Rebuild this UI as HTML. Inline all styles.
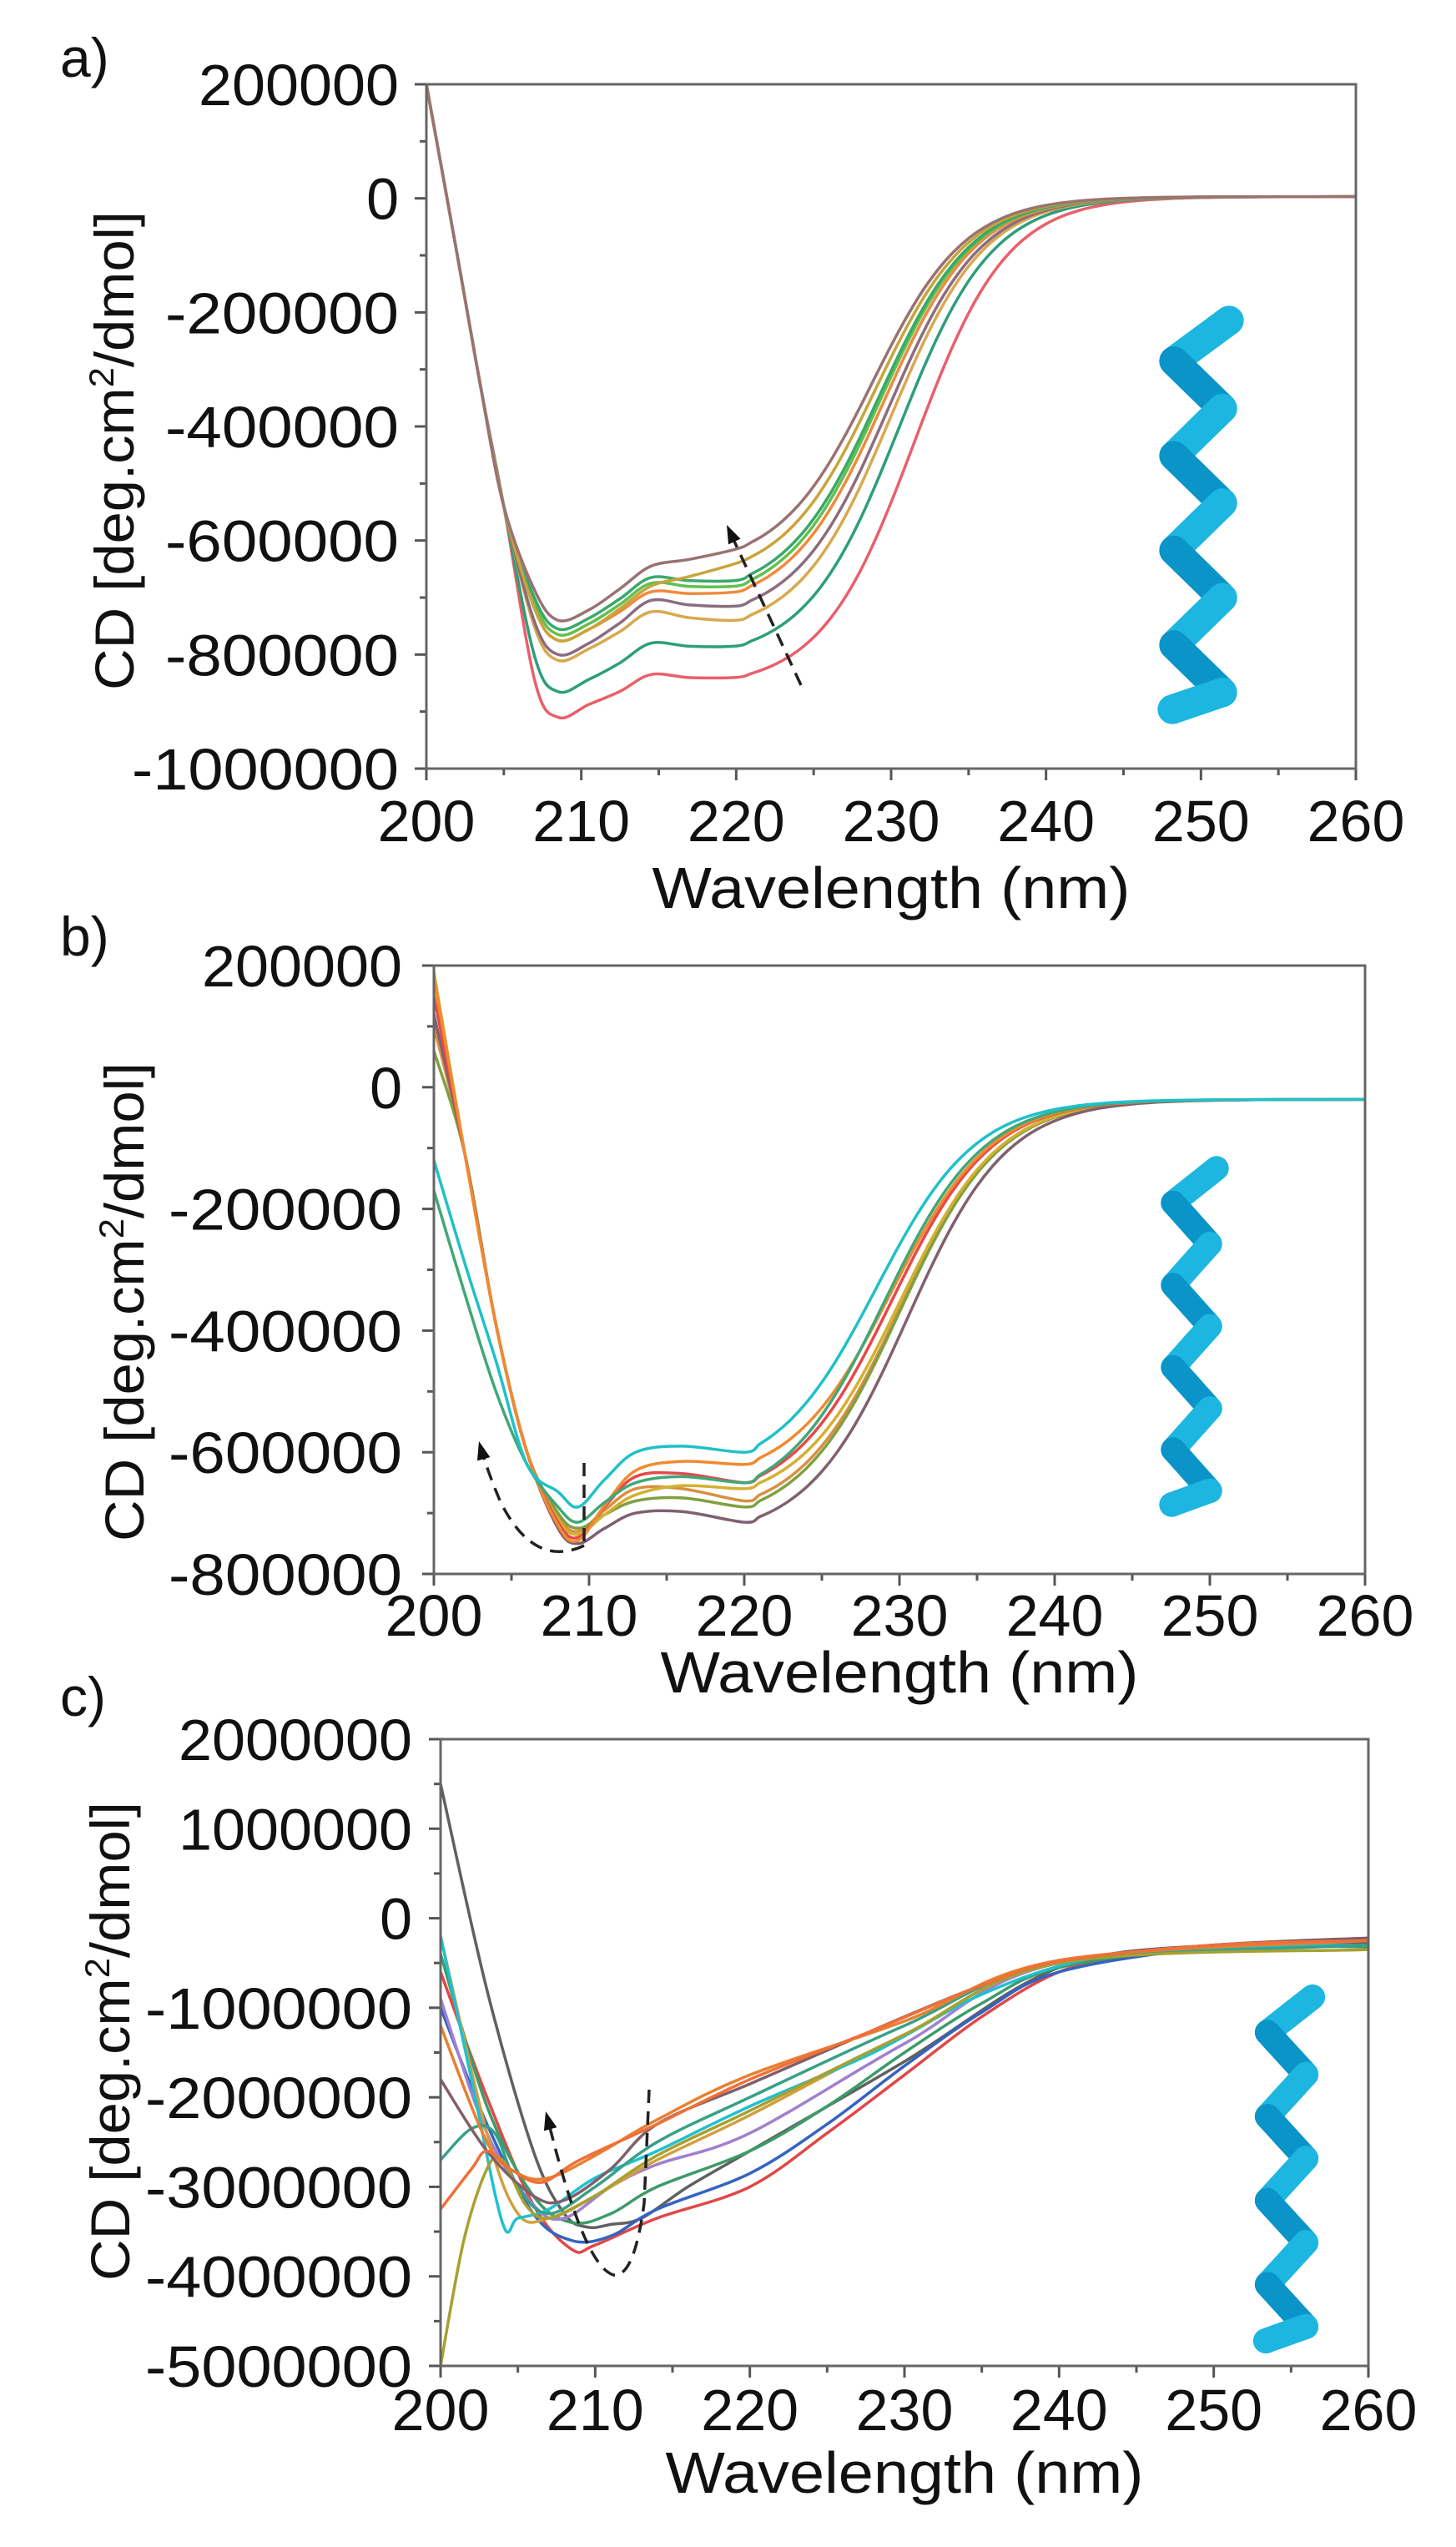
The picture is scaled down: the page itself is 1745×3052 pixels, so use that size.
<!DOCTYPE html>
<html><head><meta charset="utf-8"><style>
html,body{margin:0;padding:0;background:#fff;}
svg{display:block;}
text{font-family:"Liberation Sans",Arial,sans-serif;fill:#111;}
</style></head><body>
<svg id="s" width="1745" height="3052" viewBox="0 0 1745 3052" xmlns="http://www.w3.org/2000/svg">
<rect width="1745" height="3052" fill="#fff"/>
<text x="72" y="92" font-size="66">a)</text>
<text x="72" y="1145" font-size="66">b)</text>
<text x="72" y="2056" font-size="66">c)</text>
<g id="g"></g>
</svg>
<script>
var NS="http://www.w3.org/2000/svg",G=document.getElementById('g');
function el(t,a,txt){var e=document.createElementNS(NS,t);for(var k in a)e.setAttribute(k,a[k]);if(txt!==undefined)e.textContent=txt;G.appendChild(e);return e;}
function panel(P){
  var X=function(x){return P.l+(x-200)/60*(P.r-P.l);};
  var Y=function(v){return P.t+(P.ymax-v)/(P.ymax-P.ymin)*(P.b-P.t);};
  var cid='c'+P.id;
  var d=document.createElementNS(NS,'clipPath');d.setAttribute('id',cid);
  var r=document.createElementNS(NS,'rect');r.setAttribute('x',P.l);r.setAttribute('y',P.t);r.setAttribute('width',P.r-P.l);r.setAttribute('height',P.b-P.t);
  d.appendChild(r);G.appendChild(d);
  var n=Math.round((P.ymax-P.ymin)/P.step);
  for(var i=0;i<=n;i++){var v=P.ymax-i*P.step,y=Y(v);
    el('line',{x1:P.l-14,y1:y,x2:P.l,y2:y,stroke:'#555','stroke-width':3});
    var s=String(v===0?0:v);
    var a={x:P.lx,y:y+25,'font-size':70,'text-anchor':'end'};
    if(s.length>1){a.textLength=s.length*40;a.lengthAdjust='spacingAndGlyphs';}
    el('text',a,s);
    if(i<n){var ym=Y(v-P.step/2);el('line',{x1:P.l-8,y1:ym,x2:P.l,y2:ym,stroke:'#555','stroke-width':3});}
  }
  for(var x=200;x<=260;x+=5){var xx=X(x),maj=(x%10==0);
    el('line',{x1:xx,y1:P.b,x2:xx,y2:P.b+(maj?14:8),stroke:'#555','stroke-width':3});
    if(maj)el('text',{x:xx,y:P.tb,'font-size':70,'text-anchor':'middle'},String(x));
  }
  el('text',{x:(P.l+P.r)/2,y:P.ttb,'font-size':70,'text-anchor':'middle',textLength:573,lengthAdjust:'spacingAndGlyphs'},'Wavelength (nm)');
  var t=el('text',{x:0,y:0,'font-size':66,'text-anchor':'middle',transform:'translate('+P.yl+','+P.yc+') rotate(-90)',textLength:574,lengthAdjust:'spacingAndGlyphs'});
  t.innerHTML='CD [deg.cm<tspan dy="-24" font-size="42">2</tspan><tspan dy="24">/dmol]</tspan>';
  var gg=el('g',{'clip-path':'url(#'+cid+')'});
  P.curves.forEach(function(c){
    var p=c.pts.map(function(q){return [X(q[0]),Y(q[1])];});
    var s='M'+p[0][0].toFixed(1)+','+p[0][1].toFixed(1);
    for(var i=0;i<p.length-1;i++){
      var p0=p[Math.max(0,i-1)],p1=p[i],p2=p[i+1],p3=p[Math.min(p.length-1,i+2)];
      var c1=[p1[0]+(p2[0]-p0[0])/6,p1[1]+(p2[1]-p0[1])/6],c2=[p2[0]-(p3[0]-p1[0])/6,p2[1]-(p3[1]-p1[1])/6];
      s+='C'+c1[0].toFixed(1)+','+c1[1].toFixed(1)+' '+c2[0].toFixed(1)+','+c2[1].toFixed(1)+' '+p2[0].toFixed(1)+','+p2[1].toFixed(1);
    }
    var e=document.createElementNS(NS,'path');e.setAttribute('d',s);e.setAttribute('fill','none');e.setAttribute('stroke',c.col);e.setAttribute('stroke-width',3.5);e.setAttribute('stroke-linejoin','round');gg.appendChild(e);
  });
  el('rect',{x:P.l,y:P.t,width:P.r-P.l,height:P.b-P.t,fill:'none',stroke:'#666','stroke-width':3});
  var h=P.hx,x0=h[0],x1=h[1],y0=h[2],y1=h[3],dy=(y1-y0)/8.5;
  var pts=[[x1-4,y0+8]];
  for(var k=1;k<=8;k++){pts.push([k%2?x0+14:x1-12,y0+k*dy]);}
  pts.push([x0+12,y1-8]);
  for(var k=0;k<pts.length-1;k++){
    el('line',{x1:pts[k][0],y1:pts[k][1],x2:pts[k+1][0],y2:pts[k+1][1],stroke:k%2?'#0a94c8':'#1cb6e0','stroke-width':(x1-x0)*0.42,'stroke-linecap':'round'});
  }
}
function sig(pts,plat,xc,w,base,xs){
  var f0=1+Math.exp((xs-xc)/w);
  for(var x=xs+1;x<=260;x+=1){pts.push([x,base+(plat-base)*f0/(1+Math.exp((x-xc)/w))]);}
  return pts;
}
var A=[['#e8606a',-910,-835,-840,231.5],['#2e9e7a',-865,-780,-785,230.5],['#d8a850',-810,-725,-740,230],['#8c6c80',-800,-705,-715,229.8],['#f08a3c',-775,-690,-690,229.5],['#62c050',-765,-675,-680,229.3],['#3aa86a',-755,-665,-670,229.2],['#c9a43a',-775,-680,-640,229],['#9a7272',-740,-645,-615,228.8]];
var ca=A.map(function(a){var mn=a[1],b=a[2],pl=a[3];
  var p=[[200,200],[202,-100],[203.5,-330],[205,-540],[207,mn*0.93],[208.5,mn],[210.5,mn*0.975],[212.5,(mn+b)/2+8],[214.5,b],[217,(b+pl)/2-3],[220,pl]];
  return {col:a[0],pts:sig(p,pl,a[4],3,3,220)};});
panel({id:'a',l:511,r:1625,t:101,b:921,ymax:200000,ymin:-1000000,step:200000,lx:478,tb:1008,ttb:1088,yl:160,yc:540,hx:[1393,1477,376,858],
  curves:ca.map(function(c){return {col:c.col,pts:c.pts.map(function(q){return [q[0],q[1]*1000];})};})});
var B=[['#d89040',100,-730,-660,-680,230],['#80a040',60,-725,-680,-690,230],['#d4b030',190,-735,-670,-660,230],['#806070',120,-750,-700,-715,230.5],['#e84848',150,-740,-640,-650,229.5],['#f08a30',180,-745,-630,-620,229.5],['#40a878',-170,-715,-650,-650,229],['#20c0c8',-120,-690,-600,-600,228.5]];
var cb=B.map(function(a){var s=a[1],mn=a[2],p1=a[3],p2=a[4];
  var p=[[200,s],[202,Math.min(-110,s-170)],[204,Math.min(-390,s-330)],[206,s<0?-620:-600],[208,mn+25],[209.3,mn],[211,(mn+p1)/2],[213,p1],[216,(p1+p2)/2+10],[220,p2]];
  sig(p,p2,a[5],3.2,-20,220);
  return {col:a[0],pts:p.map(function(q){return [q[0],q[1]*1000];})};});
panel({id:'b',l:520,r:1636,t:1157,b:1886,ymax:200000,ymin:-800000,step:200000,lx:482,tb:1960,ttb:2028,yl:172,yc:1560,hx:[1392,1462,1392,1811],curves:cb});
var C=[
['#606060',[[200,1.5],[203,-0.8],[206,-2.6],[208,-3.3],[209.5,-3.45],[211,-3.42],[213,-3.35],[216,-3.0],[220,-2.6],[230,-1.6],[240,-0.55],[250,-0.3],[260,-0.28]]],
['#e04848',[[200,-0.6],[203,-2.0],[206,-3.2],[208.5,-3.7],[210,-3.65],[214,-3.35],[220,-3.0],[225,-2.4],[230,-1.75],[235,-1.1],[240,-0.6],[245,-0.4],[250,-0.32],[260,-0.3]]],
['#3464c0',[[200,-1.0],[203,-2.3],[206,-3.3],[208.5,-3.6],[211,-3.55],[214,-3.25],[220,-2.85],[225,-2.3],[230,-1.65],[235,-1.05],[240,-0.6],[250,-0.33],[260,-0.3]]],
['#3c9c68',[[200,-0.4],[203,-2.1],[206,-3.1],[208.5,-3.4],[211,-3.3],[214,-3.0],[220,-2.6],[225,-2.1],[230,-1.5],[235,-0.95],[240,-0.55],[250,-0.33],[260,-0.32]]],
['#a080d0',[[200,-0.9],[203,-2.4],[206,-3.2],[208,-3.35],[211,-3.0],[214,-2.75],[220,-2.4],[230,-1.4],[240,-0.5],[260,-0.3]]],
['#d0a040',[[200,-0.2],[203,-2.4],[205,-3.3],[207,-3.35],[210,-3.1],[214,-2.7],[220,-2.2],[230,-1.3],[240,-0.5],[260,-0.3]]],
['#20c0d0',[[200,-0.2],[202,-1.8],[204,-3.4],[205,-3.35],[207,-3.25],[210,-2.9],[214,-2.6],[220,-2.1],[228,-1.5],[235,-0.85],[242,-0.45],[250,-0.33],[260,-0.3]]],
['#38a088',[[200,-2.7],[202,-2.35],[203.5,-2.4],[205,-3.0],[207,-3.3],[210,-3.0],[214,-2.5],[220,-2.0],[230,-1.2],[240,-0.5],[260,-0.3]]],
['#a8a030',[[200,-5.0],[201.5,-3.6],[203,-2.8],[204,-2.7],[205.5,-3.2],[207,-3.35],[210,-3.1],[214,-2.65],[220,-2.15],[230,-1.3],[240,-0.5],[260,-0.35]]],
['#806068',[[200,-1.8],[203,-2.6],[206,-3.1],[208,-3.15],[211,-2.8],[214,-2.3],[220,-1.85],[226,-1.4],[230,-1.1],[235,-0.75],[240,-0.48],[250,-0.3],[260,-0.22]]],
['#e88030',[[200,-1.2],[203,-2.5],[205,-2.85],[207,-2.9],[210,-2.65],[214,-2.25],[220,-1.75],[230,-1.15],[240,-0.47],[260,-0.25]]],
['#f07038',[[200,-3.25],[202,-2.8],[203,-2.6],[204.5,-2.8],[206.5,-2.95],[209,-2.7],[214,-2.3],[220,-1.8],[228,-1.25],[235,-0.75],[240,-0.48],[250,-0.3],[260,-0.25]]]];
panel({id:'c',l:528,r:1640,t:2084,b:2835,ymax:2000000,ymin:-5000000,step:1000000,lx:494,tb:2912,ttb:2987,yl:155,yc:2446,hx:[1505,1577,2385,2813],
  curves:C.map(function(a){return {col:a[0],pts:a[1].map(function(q){return [q[0],q[1]*1e6];})};})});
function dash(d){el('path',{d:d,fill:'none',stroke:'#222','stroke-width':3.5,'stroke-dasharray':'16 10'});}
function head(x,y,ang){var a=ang*Math.PI/180,L=22,W=8;
  var bx=x-L*Math.cos(a),by=y-L*Math.sin(a);
  el('polygon',{points:x+','+y+' '+(bx+W*Math.sin(a))+','+(by-W*Math.cos(a))+' '+(bx-W*Math.sin(a))+','+(by+W*Math.cos(a)),fill:'#111'});}
dash('M960,821 L876,640');head(871,629,Math.atan2(629-821,871-960)*180/Math.PI);
dash('M700,1753 L700,1848');
dash('M700,1852 Q640,1880 600,1800 Q585,1765 578,1740');head(574,1727,-105);
dash('M778,2504 L772,2640 Q760,2730 735,2726 Q700,2715 658,2545');head(654,2530,-105);
</script>
</body></html>
